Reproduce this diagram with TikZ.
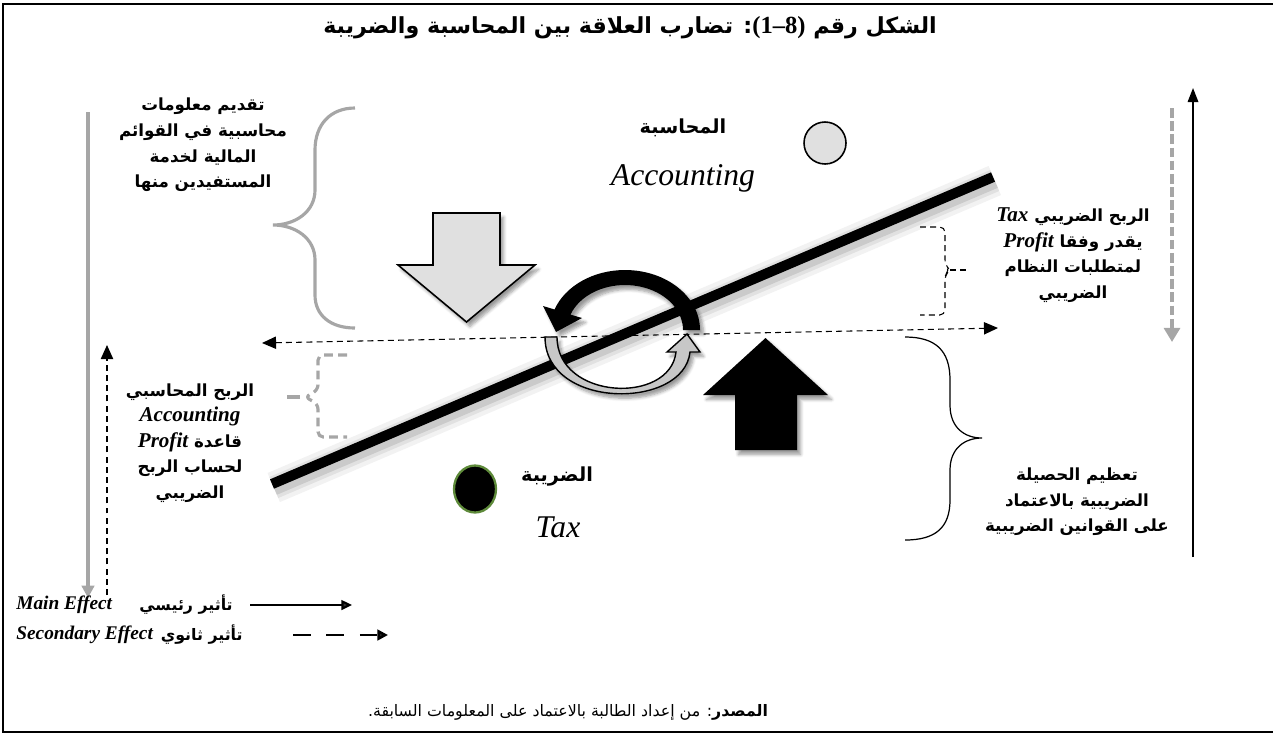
\documentclass[tikz,border=0pt]{standalone}
\usepackage{fontspec}
\setmainfont{Liberation Serif}
\newfontfamily\arabicfont[Script=Arabic]{DejaVu Sans}
\TeXXeTstate=1
\usetikzlibrary{arrows.meta,shapes.geometric,shadows.blur}

\definecolor{taxgreen}{HTML}{5E8A3A}
\newcommand{\artext}[1]{{\arabicfont\beginR #1\endR}}
\newcommand{\entext}[1]{\beginL{\rmfamily\bfseries\itshape\fontsize{12}{14.6}\selectfont #1}\endL}

\begin{document}
\begin{tikzpicture}[
    x=0.02cm, y=-0.02cm,
    ar text/.style={font=\arabicfont\bfseries\fontsize{9.5}{14.6}\selectfont, align=center, inner sep=0pt},
    ar label/.style={font=\arabicfont\bfseries\fontsize{11}{13}\selectfont, inner sep=0pt},
    big latin/.style={font=\rmfamily\itshape\fontsize{18}{20}\selectfont, inner sep=0pt},
    legend latin/.style={font=\rmfamily\bfseries\itshape\fontsize{11}{13}\selectfont, inner sep=0pt},
    legend ar/.style={font=\arabicfont\bfseries\fontsize{9}{13}\selectfont, inner sep=0pt},
    soft shadow/.style={blur shadow={shadow xshift=2pt, shadow yshift=-2.5pt, shadow blur steps=6, shadow opacity=40}},
    gray way/.style={draw=black!35, line width=2.2pt},
    sec way/.style={dash pattern=on 3.4pt off 2.4pt, line width=0.6pt},
]

\useasboundingbox (0,0) rectangle (1273,735);

% frame
\draw[line width=1.2pt] (1280,4) -- (3,4) -- (3,732) -- (1280,732);

% === Title ===
\node[font=\arabicfont\bfseries\fontsize{12.6}{15}\selectfont, inner sep=0pt] (title) at (630,28)
    {\artext{الشكل رقم \beginL{\rmfamily\bfseries\fontsize{14}{15}\selectfont(1–8)}\endL: تضارب العلاقة بين المحاسبة والضريبة}};

% === Side arrows ===
\coordinate (gLtop) at (88,112);
\coordinate (gLbot) at (88,598);
\draw[gray way, -{Triangle[length=7pt,width=7pt]}, black!35] (gLtop) -- (gLbot);

\coordinate (dLbot) at (107,595);
\coordinate (dLtop) at (107,345);
\draw[sec way, line width=0.8pt, -{Triangle[length=8pt,width=7pt]}] (dLbot) -- (dLtop);

\coordinate (gRtop) at (1172,108);
\coordinate (gRbot) at (1172,342);
\draw[draw=black!35, line width=2.3pt, dash pattern=on 5.5pt off 2pt, -{Triangle[length=8pt,width=9pt]}, black!35] (gRtop) -- (gRbot);

\coordinate (bRbot) at (1193,557);
\coordinate (bRtop) at (1193,88);
\draw[line width=0.9pt, -{Triangle[length=8pt,width=6pt]}] (bRbot) -- (bRtop);

% === Braces ===
\draw[black!35, line width=1.8pt] (355,108) .. controls (330,108) and (315,125) .. (315,150) -- (315,190)
    .. controls (315,212) and (295,225) .. (273,225) .. controls (295,225) and (315,238) .. (315,260) -- (315,295)
    .. controls (315,315) and (330,328) .. (355,328);
\draw[black!35, line width=1.8pt, dash pattern=on 5pt off 3pt, rounded corners=3pt]
    (347,355) -- (318,355) -- (318,390) -- (305,397) -- (318,404) -- (318,437) -- (347,437);
\draw[black!35, line width=1.8pt] (300,397) -- (287,397);
\draw[sec way, rounded corners=3pt]
    (920,227) -- (945,227) -- (945,265) -- (950,270) -- (945,275) -- (945,315) -- (920,315);
\draw[sec way] (950,270) -- (970,270);
\draw[line width=0.7pt] (905,337) .. controls (935,337) and (950,350) .. (950,380) -- (950,405)
    .. controls (950,428) and (965,438) .. (982,438) .. controls (965,438) and (950,448) .. (950,470) -- (950,500)
    .. controls (950,528) and (935,540) .. (905,540);

% === Texts ===
\node[ar text] (accinfo) at (203,145) {\artext{تقديم معلومات}\\\artext{محاسبية في القوائم}\\\artext{المالية لخدمة}\\\artext{المستفيدين منها}};
\node[ar text] (accprofit) at (190,443) {\artext{الربح المحاسبي}\\\entext{Accounting}\\\artext{قاعدة \entext{Profit}}\\\artext{لحساب الربح}\\\artext{الضريبي}};
\node[ar text] (taxprofit) at (1073,255) {\artext{الربح الضريبي \entext{Tax}}\\\artext{يقدر وفقا \entext{Profit}}\\\artext{لمتطلبات النظام}\\\artext{الضريبي}};
\node[ar text] (taxyield) at (1077,502) {\artext{تعظيم الحصيلة}\\\artext{الضريبية بالاعتماد}\\\artext{على القوانين الضريبية}};

% === Balance beam ===
\coordinate (beamL) at (272,484);
\coordinate (beamR) at (993,177);
\foreach \w/\o in {18pt/0.05, 13pt/0.07, 9pt/0.1}
    \draw[line width=\w, opacity=\o, transform canvas={shift={(1pt,-2pt)}}] (beamL) -- (beamR);
\draw[line width=5.8pt] (beamL) -- (beamR);

% horizontal secondary effect
\coordinate (secL) at (262,343);
\coordinate (secR) at (998,328);
\draw[sec way, {Triangle[length=8pt,width=7pt]}-{Triangle[length=8pt,width=7pt]}] (secL) -- (secR);

% === Accounting / Tax ===
\node[ar label] (acclabel) at (683,128) {\artext{المحاسبة}};
\node[big latin] (accname) at (683,178) {Accounting};
\node[circle, draw, fill=black!12, line width=0.9pt, minimum size=0.84cm, inner sep=0pt] (acccircle) at (825,143) {};

\node[ar label] (taxlabel) at (557,477) {\artext{الضريبة}};
\node[big latin] (taxname) at (558,527) {Tax};
\node[ellipse, draw=taxgreen, fill=black, line width=1.3pt, minimum width=0.84cm, minimum height=0.94cm, inner sep=0pt] (taxcircle) at (475,489) {};

% === Block arrows ===
\filldraw[fill=black!12, line width=0.9pt, soft shadow]
    (433,213) -- (500,213) -- (500,265) -- (535,265) -- (466.5,322) -- (398,265) -- (433,265) -- cycle;
\fill[black, soft shadow]
    (735,450) -- (797,450) -- (797,395) -- (828,395) -- (765.5,338) -- (703,395) -- (735,395) -- cycle;

% === Cycle arrows ===
\fill[black, soft shadow] (700,330) arc[start angle=0, end angle=-160, x radius=75, y radius=60]
    -- (543,306) -- (556,332) -- (582,318) -- (570.5,314.6)
    arc[start angle=-160, end angle=0, x radius=58, y radius=45] -- cycle;
\filldraw[fill=black!22, line width=0.8pt, soft shadow] (545,337) -- (557,337)
    .. controls (557,400) and (670,405) .. (676,352) -- (667,352) -- (687,334) -- (700,352) -- (690,352)
    .. controls (684,410) and (545,410) .. (545,337) -- cycle;

% === Legend ===
\node[legend latin, anchor=west] (mainlat) at (16,605) {Main Effect};
\node[legend ar, anchor=east] (mainar) at (233,605) {\artext{تأثير رئيسي}};
\coordinate (mainA) at (250,605);
\coordinate (mainB) at (352,605);
\draw[line width=1.2pt, -{Triangle[length=6pt,width=5.5pt]}] (mainA) -- (mainB);

\node[legend latin, anchor=west] (seclat) at (16,635) {Secondary Effect};
\node[legend ar, anchor=east] (secar) at (243,635) {\artext{تأثير ثانوي}};
\coordinate (secA) at (293,635);
\coordinate (secB) at (388,635);
\draw[line width=1.6pt, dash pattern=on 10pt off 9pt, -{Triangle[length=6pt,width=6pt]}] (secA) -- (secB);

% source
\node[font=\arabicfont\fontsize{9}{12}\selectfont, inner sep=0pt] (source) at (568,712)
    {\artext{{\bfseries المصدر}: من إعداد الطالبة بالاعتماد على المعلومات السابقة.}};

\end{tikzpicture}
\end{document}
